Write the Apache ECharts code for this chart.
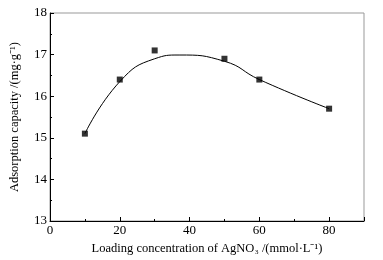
<!DOCTYPE html>
<html><head><meta charset="utf-8">
<script src="https://cdn.jsdelivr.net/npm/echarts@6/dist/echarts.min.js"></script>
<style>html,body{margin:0;padding:0;background:#fff}#c{width:383px;height:260px}</style>
</head><body><div id="c"></div>
<script>
const loading = [10, 20, 30, 50, 60, 80];
const capacity = [15.1, 16.4, 17.1, 16.9, 16.4, 15.7];
const fitX = [10, 20, 30, 37, 50, 60, 80];
const fitY = [15.1, 16.35, 16.9, 16.99, 16.84, 16.4, 15.7];
const xTicks = [0, 20, 40, 60, 80];
const yTicks = [13, 14, 15, 16, 17, 18];

const font = 'Liberation Serif';
const chart = echarts.init(document.getElementById('c'));
const axisBase = {
  axisLine: {show: true, lineStyle: {color: '#000', width: 1}},
  axisTick: {show: true, inside: true, length: 4, lineStyle: {color: '#000'}},
  minorTick: {show: true, splitNumber: 2, length: 2, lineStyle: {color: '#000'}},
  splitLine: {show: false}
};
chart.setOption({
  animation: false,
  grid: {left: 48, right: 19, top: 13, bottom: 39, show: true, borderColor: '#999', borderWidth: 1},
  xAxis: Object.assign({}, axisBase, {
    type: 'value', min: 0, max: 90, interval: 20,
    name: 'Loading concentration of AgNO₃ /(mmol·L⁻¹)',
    nameLocation: 'middle', nameGap: 20,
    nameTextStyle: {fontFamily: font, fontSize: 12.5, color: '#000'},
    axisLabel: {fontFamily: font, fontSize: 13, color: '#000', margin: 3,
      formatter: v => xTicks.includes(v) ? String(v) : ''}
  }),
  yAxis: Object.assign({}, axisBase, {
    type: 'value', min: 13, max: 18, interval: 1,
    name: 'Adsorption capacity /(mg·g⁻¹)',
    nameLocation: 'middle', nameGap: 29,
    nameTextStyle: {fontFamily: font, fontSize: 12.5, color: '#000'},
    axisLabel: {fontFamily: font, fontSize: 13, color: '#000', margin: 3,
      formatter: v => yTicks.includes(v) ? String(v) : ''}
  }),
  series: [
    {type: 'line', data: fitX.map((x, i) => [x, fitY[i]]), smooth: 0.5, showSymbol: false,
     lineStyle: {color: '#000', width: 1}},
    {type: 'scatter', data: loading.map((x, i) => [x, capacity[i]]), symbol: 'rect', symbolSize: 6,
     itemStyle: {color: '#000'}}
  ]
});
</script></body></html>
